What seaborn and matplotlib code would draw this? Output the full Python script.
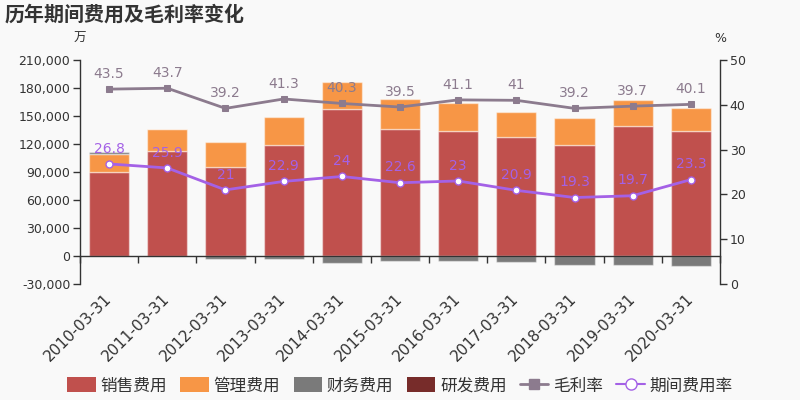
import numpy as np
import pandas as pd
import matplotlib
matplotlib.use("Agg")
import matplotlib.pyplot as plt
from matplotlib.ticker import FuncFormatter, MultipleLocator, FixedLocator
from matplotlib.patches import Patch
from matplotlib.lines import Line2D
import seaborn as sns

categories = ["2010-03-31", "2011-03-31", "2012-03-31", "2013-03-31", "2014-03-31",
              "2015-03-31", "2016-03-31", "2017-03-31", "2018-03-31", "2019-03-31", "2020-03-31"]
sales_exp = [90000, 112300, 95200, 118700, 157000, 136500, 134000, 127900, 119400, 138900, 134300]
admin_exp = [19800, 23400, 26700, 30500, 29600, 31900, 30200, 26300, 28100, 28100, 24200]
fin_exp = [1200, 0, -3500, -3500, -7800, -5300, -5700, -6800, -9200, -9900, -11000]
rd_exp = [0, 0, 0, 0, 0, 0, 0, 0, 0, 0, 0]
gross_margin = [43.5, 43.7, 39.2, 41.3, 40.3, 39.5, 41.1, 41, 39.2, 39.7, 40.1]
period_rate = [26.8, 25.9, 21, 22.9, 24, 22.6, 23, 20.9, 19.3, 19.7, 23.3]

C_SALES = "#c0504d"
C_ADMIN = "#f79646"
C_FIN = "#7a7a7a"
C_RD = "#772c2a"
C_GM = "#8c7b8e"
C_PR = "#a461e6"
BG = "#f9f9f9"
TXT = "#333333"

sns.set_theme(style="white")
plt.rcParams["font.family"] = ["DejaVu Sans", "Noto Sans CJK SC"]

fig = plt.figure(figsize=(8, 4), dpi=100, facecolor=BG)
ax = fig.add_axes([0.1, 0.29, 0.8, 0.56])
ax.set_facecolor(BG)

df = pd.DataFrame({"cat": categories, "sales": sales_exp, "admin": admin_exp,
                   "fin": fin_exp, "rd": rd_exp})
sales_arr = np.array(sales_exp, dtype=float)
admin_arr = np.array(admin_exp, dtype=float)
fin_arr = np.array(fin_exp, dtype=float)
rd_arr = np.array(rd_exp, dtype=float)

edge = (1, 1, 1, 0.45)
bw = 0.69
sns.barplot(data=df, x="cat", y="sales", color=C_SALES, saturation=1, width=bw,
            errorbar=None, edgecolor=edge, linewidth=1, ax=ax)
sns.barplot(data=df, x="cat", y="admin", color=C_ADMIN, saturation=1, width=bw,
            errorbar=None, edgecolor=edge, linewidth=1, ax=ax, bottom=sales_arr)
fin_bottom = np.where(fin_arr >= 0, sales_arr + admin_arr, 0)
sns.barplot(data=df, x="cat", y="fin", color=C_FIN, saturation=1, width=bw,
            errorbar=None, edgecolor=edge, linewidth=1, ax=ax, bottom=fin_bottom)
rd_bottom = np.where(fin_arr >= 0, sales_arr + admin_arr + fin_arr, sales_arr + admin_arr)
sns.barplot(data=df, x="cat", y="rd", color=C_RD, saturation=1, width=bw,
            errorbar=None, edgecolor=edge, linewidth=0, ax=ax, bottom=rd_bottom)

n = len(categories)
ax.set_xlim(-0.5, n - 0.5)
ax.set_ylim(-30000, 210000)
ax.yaxis.set_major_locator(MultipleLocator(30000))
ax.yaxis.set_major_formatter(FuncFormatter(lambda v, p: f"{int(v):,}"))
ax.set_xlabel("")
ax.set_ylabel("")

for s in ["top", "right"]:
    ax.spines[s].set_visible(False)
ax.spines["left"].set_color(TXT)
ax.spines["left"].set_linewidth(1)
ax.spines["bottom"].set_position(("data", 0))
ax.spines["bottom"].set_color(TXT)
ax.spines["bottom"].set_linewidth(1)

ax.tick_params(axis="y", which="major", direction="out", length=5, width=1,
               color=TXT, labelcolor=TXT, labelsize=9, pad=2, left=True)
ax.xaxis.set_minor_locator(FixedLocator(np.arange(-0.5, n, 1.0)))
ax.tick_params(axis="x", which="minor", direction="out", length=5, width=1, color=TXT, bottom=True)
ax.tick_params(axis="x", which="major", length=0, pad=29, labelsize=11, labelcolor=TXT)
ax.set_xticks(np.arange(n))
ax.set_xticklabels(categories, rotation=45, ha="right", va="center", rotation_mode="anchor")

ax2 = ax.twinx()
ax2.set_ylim(0, 50)
ax2.yaxis.set_major_locator(MultipleLocator(10))
for s in ["top", "left", "bottom"]:
    ax2.spines[s].set_visible(False)
ax2.spines["right"].set_color(TXT)
ax2.spines["right"].set_linewidth(1)
ax2.tick_params(axis="y", which="major", direction="out", length=5, width=1,
                color=TXT, labelcolor=TXT, labelsize=9, pad=2, right=True)
ax2.grid(False)
ax.grid(False)

xs = np.arange(n)
sns.lineplot(x=xs, y=gross_margin, ax=ax2, color=C_GM, linewidth=2, marker="s",
             markersize=5, markeredgecolor=C_GM, markerfacecolor=C_GM)
sns.lineplot(x=xs, y=period_rate, ax=ax2, color=C_PR, linewidth=2, marker="o",
             markersize=5, markeredgecolor=C_PR, markerfacecolor="white", markeredgewidth=1)
ax2.set_xlim(-0.5, n - 0.5)

for x, v in zip(xs, gross_margin):
    ax2.annotate(f"{v:g}", (x, v), xytext=(0, 11), textcoords="offset points",
                 ha="center", va="center", fontsize=10, color=C_GM)
for x, v in zip(xs, period_rate):
    ax2.annotate(f"{v:g}", (x, v), xytext=(0, 11), textcoords="offset points",
                 ha="center", va="center", fontsize=10, color=C_PR)

fig.text(0.006, 0.963, "历年期间费用及毛利率变化", fontsize=14.4, fontweight="bold",
         color=TXT, ha="left", va="center")
fig.text(0.1, 0.905, "万", fontsize=9, color=TXT, ha="center", va="center")
fig.text(0.9, 0.905, "%", fontsize=9, color=TXT, ha="center", va="center")

handles = [
    Patch(facecolor=C_SALES, edgecolor="none"),
    Patch(facecolor=C_ADMIN, edgecolor="none"),
    Patch(facecolor=C_FIN, edgecolor="none"),
    Patch(facecolor=C_RD, edgecolor="none"),
    Line2D([0], [0], color=C_GM, lw=2, marker="s", markersize=7, markerfacecolor=C_GM),
    Line2D([0], [0], color=C_PR, lw=1.5, marker="o", markersize=8, markerfacecolor="white",
           markeredgecolor=C_PR),
]
labels = ["销售费用", "管理费用", "财务费用", "研发费用", "毛利率", "期间费用率"]
fig.legend(handles, labels, loc="center", bbox_to_anchor=(0.5, 0.036), ncol=6,
           frameon=False, fontsize=12, handlelength=1.7, handleheight=1.0,
           handletextpad=0.3, columnspacing=0.8, labelcolor=TXT)

fig.savefig("out.png", dpi=100, facecolor=BG)
